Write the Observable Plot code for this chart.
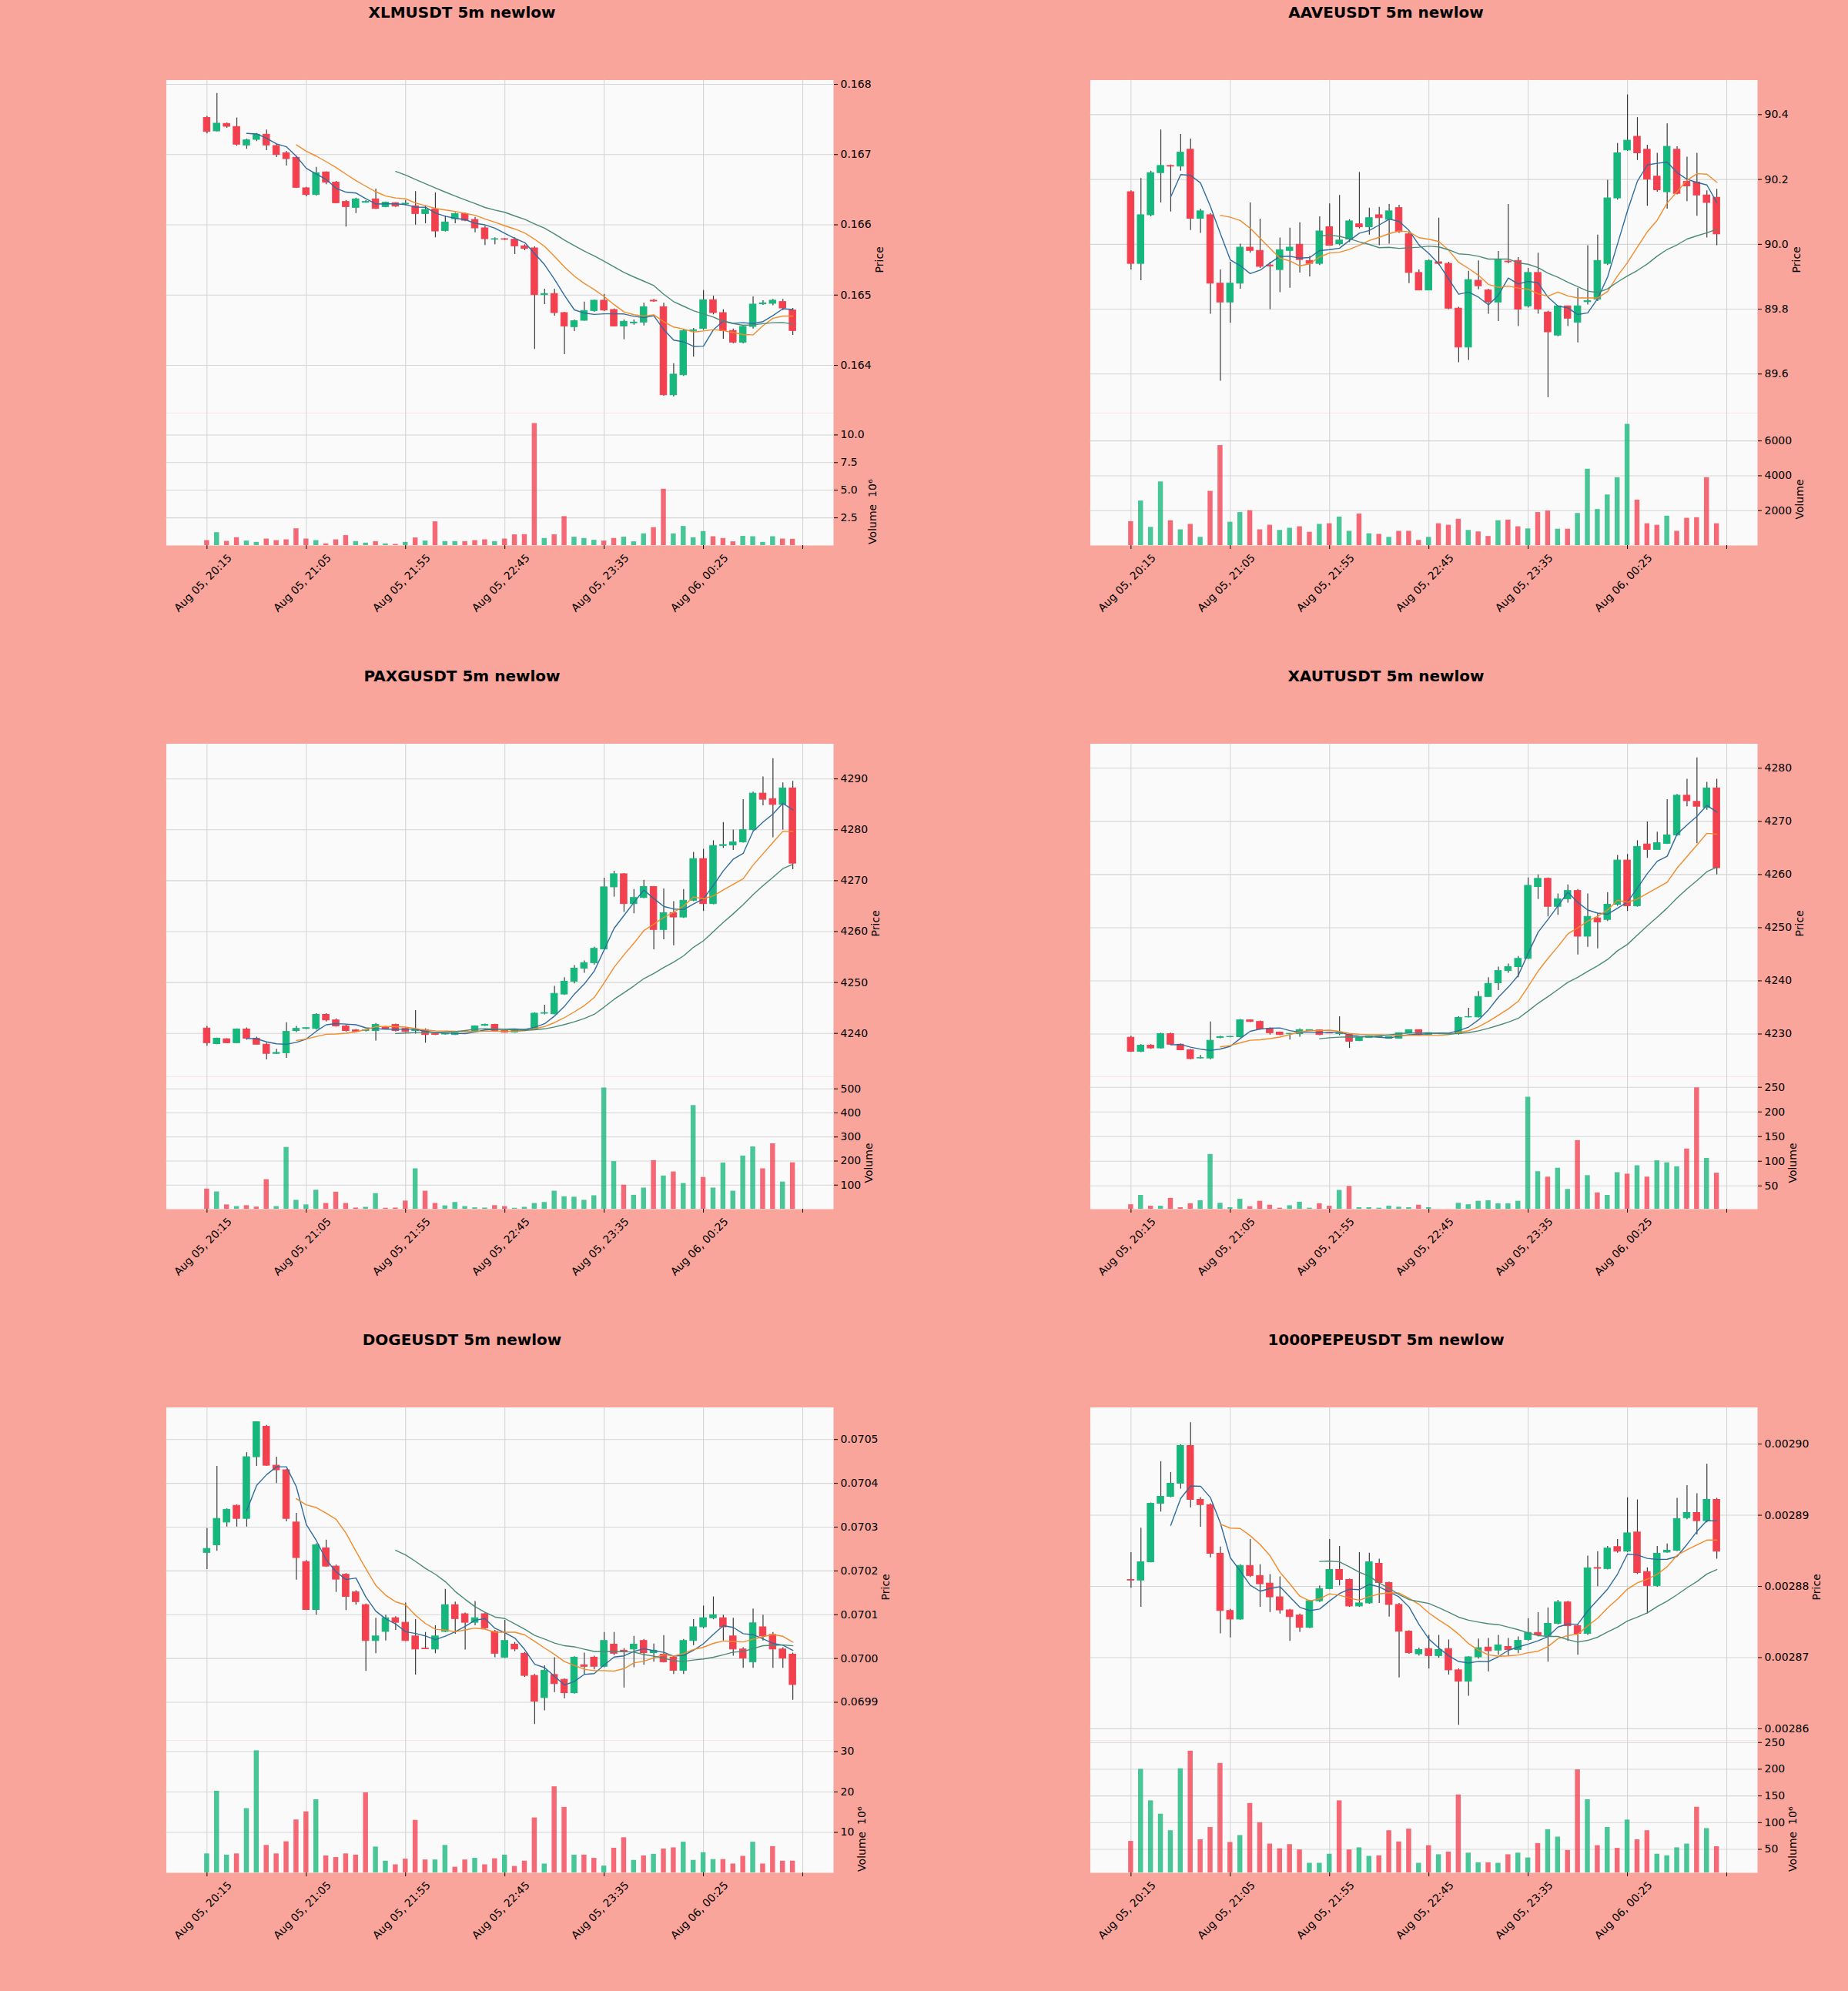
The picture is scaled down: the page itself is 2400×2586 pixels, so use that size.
<!DOCTYPE html>
<html><head><meta charset="utf-8">
<script src="https://cdn.jsdelivr.net/npm/d3@7"></script>
<script src="https://cdn.jsdelivr.net/npm/@observablehq/plot@0.6"></script>
<style>
html,body{margin:0;padding:0;background:#f9a59b;}
#root{position:relative;width:2400px;height:2586px;background:#f9a59b;font-family:"DejaVu Sans",sans-serif;overflow:hidden;}
.cell{position:absolute;width:1200px;height:862px;}
.title{position:absolute;left:0;top:6.4px;width:1200px;text-align:center;font-weight:bold;font-size:20px;line-height:20px;color:#000;font-family:"DejaVu Sans",sans-serif;white-space:nowrap;}
.cell svg{position:absolute;left:0;overflow:visible;max-width:none !important;}
</style></head><body><div id="root"></div>
<script>
// ---- shared x axis ----
const timeLabels = ["Aug 05, 20:15","Aug 05, 21:05","Aug 05, 21:55","Aug 05, 22:45","Aug 05, 23:35","Aug 06, 00:25"];
const xTickIndex = [0,10,20,30,40,50,60];

// ---- XLMUSDT ----
const xlmOpen = [0.167522,0.167332,0.167438,0.167394,0.167131,0.167211,0.167284,0.167123,0.167021,0.166955,
0.166521,0.166426,0.166747,0.166601,0.166327,0.166243,0.166316,0.166364,0.166254,0.166309,
0.166291,0.166265,0.166155,0.166218,0.165914,0.166082,0.166155,0.166071,0.165951,0.165790,
0.165797,0.165790,0.165695,0.165666,0.165001,0.165016,0.164745,0.164545,0.164636,0.164775,
0.164921,0.164789,0.164555,0.164599,0.164610,0.164921,0.164829,0.163576,0.163861,0.164490,
0.164519,0.164928,0.164745,0.164490,0.164325,0.164548,0.164870,0.164877,0.164902,0.164782];
const xlmHigh = [0.167544,0.167872,0.167449,0.167522,0.167222,0.167302,0.167350,0.167149,0.167047,0.166974,
0.166535,0.166820,0.166755,0.166619,0.166345,0.166382,0.166345,0.166510,0.166327,0.166316,
0.166345,0.166473,0.166272,0.166455,0.166126,0.166170,0.166170,0.166108,0.165980,0.165816,
0.165805,0.165816,0.165717,0.165688,0.165085,0.165085,0.164756,0.164647,0.164902,0.164928,
0.165012,0.164804,0.164647,0.164647,0.164884,0.164939,0.164884,0.164026,0.164512,0.164526,
0.165067,0.164987,0.164793,0.164519,0.164563,0.164976,0.164921,0.164939,0.164939,0.164811];
const xlmLow = [0.167295,0.167324,0.167375,0.167120,0.167076,0.167186,0.167058,0.166959,0.166839,0.166517,
0.166400,0.166411,0.166572,0.166302,0.165969,0.166163,0.166309,0.166218,0.166243,0.166250,
0.166272,0.165998,0.166017,0.165816,0.165900,0.166017,0.166046,0.165889,0.165706,0.165717,
0.165779,0.165578,0.165633,0.164227,0.164866,0.164702,0.164154,0.164482,0.164629,0.164756,
0.164767,0.164548,0.164366,0.164574,0.164563,0.164900,0.163562,0.163551,0.163843,0.164117,
0.164501,0.164720,0.164373,0.164307,0.164307,0.164519,0.164855,0.164848,0.164782,0.164428];
const xlmClose = [0.167324,0.167441,0.167397,0.167142,0.167204,0.167284,0.167131,0.166996,0.166937,0.166528,
0.166426,0.166736,0.166601,0.166309,0.166254,0.166364,0.166327,0.166229,0.166316,0.166261,
0.166302,0.166155,0.166214,0.165907,0.166035,0.166155,0.166060,0.165951,0.165797,0.165797,
0.165790,0.165695,0.165659,0.165001,0.165016,0.164745,0.164555,0.164629,0.164775,0.164921,
0.164782,0.164555,0.164621,0.164610,0.164829,0.164910,0.163576,0.163869,0.164490,0.164501,
0.164928,0.164745,0.164490,0.164325,0.164548,0.164866,0.164884,0.164921,0.164811,0.164490];
const xlmVolume = [0.45,1.17,0.38,0.71,0.41,0.29,0.59,0.45,0.52,1.52,
0.59,0.45,0.15,0.52,0.90,0.36,0.22,0.36,0.15,0.10,
0.29,0.69,0.41,2.15,0.36,0.36,0.36,0.45,0.52,0.36,
0.59,0.97,0.99,11.04,0.64,0.97,2.62,0.76,0.64,0.48,
0.41,0.64,0.76,0.34,1.06,1.62,5.10,1.06,1.73,0.71,
1.27,0.80,0.64,0.34,0.83,0.80,0.29,0.80,0.59,0.57]; // x 10^6

// ---- AAVEUSDT ----
const aaveOpen = [90.161,89.940,90.090,90.220,90.242,90.240,90.292,90.079,90.090,89.879,
89.821,89.879,89.990,89.980,89.935,89.921,89.980,89.999,89.949,89.940,
90.053,90.001,90.015,90.062,90.053,90.090,90.076,90.112,90.031,89.912,
89.858,89.945,89.940,89.802,89.682,89.888,89.858,89.821,89.947,89.949,
89.809,89.912,89.790,89.719,89.809,89.759,89.822,89.830,89.940,90.142,
90.290,90.332,90.292,90.209,90.161,90.292,90.193,90.191,90.151,90.144];
const aaveHigh = [90.165,90.203,90.226,90.353,90.245,90.339,90.325,90.109,90.095,89.921,
89.945,90.001,90.128,90.078,89.945,90.020,90.050,90.067,89.963,90.085,
90.125,90.151,90.076,90.222,90.112,90.114,90.123,90.121,90.038,89.921,
89.952,90.081,89.945,89.806,89.917,89.949,89.862,89.978,90.123,89.959,
89.926,89.973,89.794,89.809,89.809,89.865,89.996,90.029,90.198,90.311,
90.461,90.391,90.306,90.281,90.372,90.301,90.269,90.281,90.165,90.170];
const aaveLow = [89.921,89.888,90.085,90.128,90.100,90.226,90.043,90.034,89.785,89.578,
89.757,89.862,89.973,89.926,89.799,89.851,89.865,89.912,89.900,89.935,
89.996,89.996,90.006,90.048,90.029,89.996,90.001,90.034,89.879,89.858,
89.858,89.935,89.799,89.635,89.642,89.860,89.785,89.762,89.940,89.747,
89.804,89.785,89.527,89.715,89.747,89.696,89.813,89.824,89.935,90.137,
90.287,90.259,90.118,90.161,90.109,90.153,90.132,90.087,90.020,89.996];
const aaveClose = [89.940,90.090,90.220,90.242,90.240,90.283,90.079,90.102,89.879,89.821,
89.879,89.990,89.980,89.931,89.932,89.982,89.990,89.952,89.940,90.040,
89.996,90.012,90.071,90.053,90.081,90.081,90.102,90.038,89.912,89.858,
89.949,89.940,89.802,89.682,89.890,89.871,89.821,89.952,89.945,89.799,
89.912,89.799,89.729,89.809,89.771,89.809,89.825,89.949,90.142,90.281,
90.320,90.281,90.200,90.167,90.301,90.156,90.179,90.151,90.128,90.031];
const aaveVolume = [1374,2556,1043,3652,1426,904,1217,470,3113,5739,
1339,1896,2000,904,1165,870,991,1078,765,1217,
1252,1635,817,1809,678,643,470,817,817,296,
470,1252,1165,1513,870,783,522,1426,1461,1078,
957,1896,1983,939,939,1843,4382,2069,2904,3895,
6956,2608,1252,1165,1687,817,1565,1600,3895,1252];

// ---- PAXGUSDT ----
const paxgOpen = [4240.96,4237.91,4238.86,4238.09,4240.78,4238.98,4237.79,4235.99,4236.11,4240.48,
4240.90,4240.90,4243.65,4242.57,4241.38,4240.60,4240.48,4240.48,4241.08,4241.68,
4240.90,4240.48,4240.66,4239.90,4239.80,4239.70,4240.30,4240.30,4241.50,4241.68,
4240.48,4240.18,4240.66,4240.78,4243.89,4243.77,4247.66,4250.17,4252.74,4253.82,
4256.51,4268.71,4271.28,4265.42,4266.62,4268.77,4260.34,4263.63,4262.79,4266.08,
4274.27,4265.42,4276.84,4276.96,4277.56,4279.95,4287.13,4286.05,4284.92,4288.15];
const paxgHigh = [4241.38,4239.10,4238.98,4240.90,4241.08,4239.28,4238.09,4236.89,4242.09,4241.38,
4241.08,4243.89,4243.89,4242.87,4241.68,4240.78,4240.66,4241.97,4241.38,4241.85,
4241.08,4244.49,4240.90,4240.06,4240.00,4240.10,4240.48,4241.50,4241.85,4241.80,
4240.60,4240.70,4240.78,4244.07,4245.56,4249.27,4250.95,4253.34,4254.24,4256.93,
4270.50,4271.88,4271.40,4268.29,4270.08,4268.89,4268.41,4265.90,4268.29,4275.59,
4276.18,4277.86,4281.45,4279.95,4285.93,4287.43,4290.42,4294.01,4289.22,4289.52];
const paxgLow = [4237.49,4237.79,4237.97,4237.97,4238.68,4237.67,4234.80,4235.87,4235.10,4240.18,
4240.78,4240.66,4242.27,4241.26,4240.30,4240.30,4240.30,4238.51,4240.78,4240.30,
4240.18,4239.88,4238.09,4239.60,4239.70,4239.60,4240.18,4240.18,4241.38,4240.36,
4240.06,4240.06,4240.48,4240.66,4243.65,4243.65,4247.48,4249.75,4251.84,4253.46,
4256.33,4266.79,4263.80,4263.51,4266.50,4256.45,4258.42,4257.23,4262.61,4265.90,
4263.98,4265.30,4276.36,4275.95,4277.38,4279.77,4284.74,4278.46,4279.95,4272.18];
const paxgClose = [4238.09,4238.98,4238.09,4240.78,4238.98,4237.79,4235.99,4236.17,4240.30,4240.90,
4241.05,4243.65,4242.57,4241.38,4240.48,4240.36,4240.66,4241.68,4240.90,4240.48,
4240.30,4240.66,4239.70,4239.72,4239.88,4240.06,4240.36,4241.38,4241.68,4240.48,
4240.18,4240.66,4240.70,4243.89,4244.00,4247.78,4250.17,4252.74,4253.82,4256.63,
4268.71,4271.28,4265.42,4266.62,4268.77,4260.34,4263.63,4262.79,4266.08,4274.27,
4265.42,4276.84,4277.02,4277.56,4279.95,4287.13,4285.93,4284.92,4288.15,4273.37];
const paxgVolume = [84,72,18,11,15,9,123,11,257,37,
18,79,24,71,24,5,8,65,4,5,
34,168,75,24,14,28,11,6,5,15,
11,4,8,24,28,75,52,50,37,56,
504,198,100,58,88,202,138,155,107,431,
132,88,192,75,221,259,168,272,113,193];

// ---- XAUTUSDT ----
const xautOpen = [4229.31,4226.68,4227.82,4227.31,4230.00,4228.00,4226.96,4225.42,4225.42,4229.26,
4229.43,4229.43,4232.58,4232.29,4230.97,4230.29,4230.00,4230.00,4230.57,4230.69,
4230.17,4230.00,4229.83,4228.68,4229.26,4229.43,4229.14,4229.14,4230.17,4230.75,
4229.83,4230.00,4230.00,4230.00,4233.15,4233.15,4236.99,4239.57,4241.86,4242.60,
4244.15,4257.66,4259.21,4253.94,4255.37,4256.92,4248.33,4251.76,4251.48,4254.34,
4262.65,4254.06,4265.68,4264.65,4265.80,4267.40,4274.85,4273.70,4272.55,4276.22];
const xautHigh = [4229.60,4228.00,4228.00,4230.17,4230.17,4228.17,4227.14,4225.99,4232.29,4229.60,
4229.55,4232.75,4232.69,4232.46,4231.15,4230.40,4230.10,4230.97,4230.80,4230.80,
4230.30,4233.27,4230.00,4229.30,4229.60,4229.55,4229.50,4230.20,4230.80,4230.80,
4230.20,4230.10,4230.10,4233.27,4234.87,4238.02,4240.60,4242.60,4243.17,4244.61,
4259.38,4259.95,4259.38,4256.35,4258.06,4257.21,4256.35,4252.62,4256.63,4263.62,
4263.79,4266.37,4269.92,4267.97,4274.10,4275.08,4277.94,4281.95,4277.37,4277.94];
const xautLow = [4226.56,4226.51,4227.14,4227.19,4227.88,4226.85,4225.13,4225.30,4225.13,4229.14,
4229.30,4229.26,4232.18,4230.75,4229.83,4229.70,4228.86,4229.43,4230.50,4229.70,
4230.10,4229.71,4227.31,4228.60,4229.20,4229.35,4229.10,4229.10,4230.10,4229.70,
4229.80,4229.90,4229.90,4229.83,4233.04,4233.04,4236.87,4238.19,4241.46,4240.60,
4244.03,4255.32,4252.05,4252.34,4254.63,4244.89,4246.32,4246.04,4251.19,4254.06,
4253.08,4253.88,4263.05,4264.65,4265.68,4267.23,4272.78,4265.80,4272.10,4259.95];
const xautClose = [4226.68,4227.82,4227.31,4230.00,4228.00,4226.96,4225.30,4225.48,4228.74,4229.43,
4229.48,4232.58,4232.29,4230.86,4230.17,4229.83,4230.05,4230.75,4230.75,4229.83,
4230.12,4230.10,4228.57,4229.26,4229.54,4229.50,4229.43,4230.17,4230.75,4229.83,
4230.17,4230.05,4230.02,4233.04,4233.20,4236.99,4239.45,4241.86,4242.60,4244.15,
4257.89,4259.21,4253.94,4255.37,4256.92,4248.33,4252.05,4251.02,4254.34,4262.65,
4254.06,4265.22,4264.65,4265.91,4267.40,4274.85,4273.82,4272.78,4276.22,4261.21];
const xautVolume = [12,31,9,9,25,6,14,20,114,15,
6,23,8,19,11,5,10,17,5,14,
9,41,49,6,6,5,9,7,6,11,
6,3,3,15,12,19,20,14,14,19,
230,79,68,86,43,142,71,36,31,77,
74,91,68,101,97,89,125,249,106,76];

// ---- DOGEUSDT ----
const dogeOpen = [0.0702413,0.0702587,0.0703107,0.0703488,0.0703190,0.0704598,0.0705292,0.0704404,0.0704300,0.0703107,
0.0702205,0.0701110,0.0702518,0.0702101,0.0701914,0.0701512,0.0701221,0.0700402,0.0700610,0.0700922,
0.0700818,0.0700506,0.0700229,0.0700208,0.0700610,0.0701221,0.0701013,0.0700818,0.0701013,0.0700610,
0.0700021,0.0700319,0.0700111,0.0699605,0.0699099,0.0699626,0.0699515,0.0699210,0.0699848,0.0700021,
0.0699813,0.0700319,0.0700180,0.0700208,0.0700402,0.0700125,0.0700090,0.0700021,0.0699723,0.0700402,
0.0700714,0.0700922,0.0700922,0.0700506,0.0700208,0.0699917,0.0700714,0.0700541,0.0700208,0.0700090];
const dogeHigh = [0.0702968,0.0704390,0.0703419,0.0703509,0.0704702,0.0705409,0.0705326,0.0704598,0.0704321,0.0703315,
0.0702240,0.0702622,0.0702705,0.0702136,0.0701942,0.0701547,0.0701248,0.0700922,0.0700992,0.0700957,
0.0701269,0.0700888,0.0700597,0.0700749,0.0701581,0.0701290,0.0701040,0.0701304,0.0701040,0.0700645,
0.0700874,0.0700368,0.0700139,0.0699639,0.0699834,0.0700021,0.0699536,0.0700042,0.0700125,0.0700056,
0.0700597,0.0700597,0.0700229,0.0700506,0.0700437,0.0700333,0.0700527,0.0700042,0.0700437,0.0700888,
0.0701200,0.0701408,0.0700992,0.0700922,0.0700250,0.0701131,0.0700992,0.0700597,0.0700250,0.0700125];
const dogeLow = [0.0702032,0.0702448,0.0703003,0.0703003,0.0703003,0.0704390,0.0704390,0.0703995,0.0703121,0.0701789,
0.0701096,0.0700992,0.0702081,0.0701512,0.0701096,0.0701221,0.0699709,0.0700111,0.0700402,0.0700645,
0.0700389,0.0699626,0.0700208,0.0700111,0.0700597,0.0700555,0.0700194,0.0700749,0.0700666,0.0700021,
0.0700000,0.0700160,0.0699570,0.0698495,0.0698807,0.0699223,0.0699085,0.0699189,0.0699639,0.0699744,
0.0699792,0.0700069,0.0699327,0.0699792,0.0699848,0.0699917,0.0699903,0.0699639,0.0699639,0.0700298,
0.0700680,0.0700888,0.0700402,0.0700056,0.0699778,0.0699778,0.0700402,0.0699778,0.0699778,0.0699050];
const dogeClose = [0.0702504,0.0703190,0.0703398,0.0703190,0.0704598,0.0705396,0.0704404,0.0704300,0.0703190,0.0702296,
0.0701110,0.0702587,0.0702101,0.0701803,0.0701408,0.0701290,0.0700402,0.0700506,0.0700922,0.0700818,
0.0700402,0.0700208,0.0700215,0.0700506,0.0701221,0.0700902,0.0700818,0.0700922,0.0700694,0.0700111,
0.0700402,0.0700208,0.0699605,0.0699015,0.0699723,0.0699418,0.0699210,0.0700021,0.0699813,0.0699813,
0.0700402,0.0700111,0.0700160,0.0700319,0.0700125,0.0700180,0.0699917,0.0699723,0.0700402,0.0700714,
0.0700922,0.0700992,0.0700714,0.0700208,0.0700000,0.0700805,0.0700506,0.0700208,0.0700000,0.0699397];
const dogeVolume = [4.7,20.2,4.4,4.7,15.9,30.2,6.8,4.7,7.7,13.1,
15.1,18.1,4.2,3.8,4.7,4.4,19.8,6.4,2.9,2.0,
3.4,13.0,3.2,3.2,6.8,1.4,3.2,3.6,2.0,3.5,
4.4,1.6,2.9,13.6,2.2,21.3,16.2,4.4,4.4,3.6,
1.7,6.1,8.7,3.1,4.2,4.6,5.9,6.2,7.6,3.1,
5.0,3.3,3.3,2.2,4.1,7.6,2.2,6.5,2.9,2.9]; // x 10^6

// ---- 1000PEPEUSDT ----
const pepeOpen = [0.00288092,0.00288084,0.00288340,0.00289162,0.00289260,0.00289444,0.00289974,0.00289217,0.00289144,0.00288460,
0.00287656,0.00287536,0.00288289,0.00288148,0.00288041,0.00287848,0.00287664,0.00287592,0.00287420,0.00287793,
0.00287964,0.00288233,0.00288092,0.00287720,0.00287763,0.00288319,0.00288049,0.00287741,0.00287365,0.00287048,
0.00287121,0.00287023,0.00287121,0.00286822,0.00286663,0.00287005,0.00287142,0.00287100,0.00287151,0.00287108,
0.00287249,0.00287348,0.00287305,0.00287476,0.00287776,0.00287442,0.00287335,0.00288260,0.00288246,0.00288554,
0.00288490,0.00288759,0.00288203,0.00288007,0.00288477,0.00288503,0.00288961,0.00289033,0.00288918,0.00289217];
const pepeHigh = [0.00288477,0.00288819,0.00289174,0.00289752,0.00289602,0.00289990,0.00290300,0.00289247,0.00289162,0.00288554,
0.00287677,0.00288306,0.00288661,0.00288306,0.00288169,0.00288135,0.00287677,0.00287613,0.00287805,0.00288007,
0.00288661,0.00288563,0.00288105,0.00288477,0.00288469,0.00288383,0.00288062,0.00287763,0.00287378,0.00287134,
0.00287313,0.00287313,0.00287249,0.00286843,0.00287014,0.00287262,0.00287271,0.00287313,0.00287271,0.00287292,
0.00287549,0.00287634,0.00287699,0.00287805,0.00287793,0.00287463,0.00288426,0.00288490,0.00288563,0.00288661,
0.00289247,0.00289217,0.00288263,0.00288563,0.00288597,0.00289239,0.00289418,0.00289303,0.00289718,0.00289239];
const pepeLow = [0.00287977,0.00287707,0.00288332,0.00289046,0.00289247,0.00289367,0.00289102,0.00288832,0.00288404,0.00287335,
0.00287279,0.00287527,0.00288126,0.00287707,0.00287634,0.00287613,0.00287228,0.00287356,0.00287408,0.00287776,
0.00287955,0.00288007,0.00287707,0.00287707,0.00287750,0.00287763,0.00287570,0.00286715,0.00287048,0.00287023,
0.00286843,0.00286993,0.00286757,0.00286051,0.00286458,0.00286980,0.00286800,0.00287035,0.00287023,0.00287057,
0.00287228,0.00287292,0.00286937,0.00287463,0.00287228,0.00287035,0.00287313,0.00287998,0.00288233,0.00288469,
0.00288477,0.00288169,0.00287613,0.00287989,0.00288469,0.00288490,0.00288939,0.00288725,0.00288896,0.00288383];
const pepeClose = [0.00288084,0.00288340,0.00289162,0.00289260,0.00289444,0.00289974,0.00289217,0.00289144,0.00288460,0.00287656,
0.00287536,0.00288289,0.00288148,0.00288032,0.00287848,0.00287664,0.00287570,0.00287420,0.00287793,0.00287964,
0.00288233,0.00288092,0.00287720,0.00287763,0.00288340,0.00288049,0.00287741,0.00287365,0.00287065,0.00287108,
0.00287023,0.00287108,0.00286822,0.00286663,0.00287005,0.00287134,0.00287091,0.00287172,0.00287108,0.00287236,
0.00287348,0.00287313,0.00287476,0.00287776,0.00287442,0.00287335,0.00288255,0.00288250,0.00288533,0.00288490,
0.00288747,0.00288190,0.00288007,0.00288460,0.00288503,0.00288948,0.00289033,0.00288918,0.00289217,0.00288490];
const pepeVolume = [65,200,141,116,85,201,234,68,91,211,
63,76,136,100,60,51,59,49,24,24,
41,141,49,53,37,38,85,64,88,24,
57,40,45,152,43,25,25,24,40,43,
34,61,87,73,48,199,143,57,91,52,
105,68,85,41,38,53,60,129,89,55]; // x 10^6

// ---- panel configuration (titles, tick values, scale ranges) ----
const panels = [
  {title:"XLMUSDT 5m newlow", o:xlmOpen, h:xlmHigh, l:xlmLow, c:xlmClose, v:xlmVolume,
   pDomain:[0.1633206,0.1680603], pTicks:[0.164,0.165,0.166,0.167,0.168], pFmt:".3f",
   vDomain:[0,11.98], vTicks:[2.5,5,7.5,10], vFmt:".1f", vLabel:"Volume  10\u2076"},
  {title:"AAVEUSDT 5m newlow", o:aaveOpen, h:aaveHigh, l:aaveLow, c:aaveClose, v:aaveVolume,
   pDomain:[89.4796,90.5066], pTicks:[89.6,89.8,90.0,90.2,90.4], pFmt:".1f",
   vDomain:[0,7598], vTicks:[2000,4000,6000], vFmt:"d", vLabel:"Volume"},
  {title:"PAXGUSDT 5m newlow", o:paxgOpen, h:paxgHigh, l:paxgLow, c:paxgClose, v:paxgVolume,
   pDomain:[4231.48,4296.91], pTicks:[4240,4250,4260,4270,4280,4290], pFmt:"d",
   vDomain:[0,550.4], vTicks:[100,200,300,400,500], vFmt:"d", vLabel:"Volume"},
  {title:"XAUTUSDT 5m newlow", o:xautOpen, h:xautHigh, l:xautLow, c:xautClose, v:xautVolume,
   pDomain:[4221.96,4284.61], pTicks:[4230,4240,4250,4260,4270,4280], pFmt:"d",
   vDomain:[2.85,271.4], vTicks:[50,100,150,200,250], vFmt:"d", vLabel:"Volume"},
  {title:"DOGEUSDT 5m newlow", o:dogeOpen, h:dogeHigh, l:dogeLow, c:dogeClose, v:dogeVolume,
   pDomain:[0.0698130,0.0705733], pTicks:[0.0699,0.0700,0.0701,0.0702,0.0703,0.0704,0.0705], pFmt:".4f",
   vDomain:[0,32.76], vTicks:[10,20,30], vFmt:"d", vLabel:"Volume  10\u2076"},
  {title:"1000PEPEUSDT 5m newlow", o:pepeOpen, h:pepeHigh, l:pepeLow, c:pepeClose, v:pepeVolume,
   pDomain:[0.002858367,0.002905149], pTicks:[0.00286,0.00287,0.00288,0.00289,0.00290], pFmt:".5f",
   vDomain:[6,254], vTicks:[50,100,150,200,250], vFmt:"d", vLabel:"Volume  10\u2076"}
];

// ---- styling ----
const UP = "#16b77c", DOWN = "#f2404f", WICK = "#3a3a3a";
const MA_COLORS = {5:"#2f6c9e", 10:"#f28b2a", 20:"#4a8a78"};
const GRID = "#d5d5d5";
const X_DOMAIN = [-4.1, 63.1];
const ML = 215.5, MR = 118;
const FS = 14;

// distance of a rotated y-axis label from the axis line, from the widest tick label
function labelOffset(ticks, fmt) {
  const f = d3.format(fmt);
  const w = d3.max(ticks, t => {
    const s = f(t);
    let px = 0;
    for (const ch of s) px += (ch === "." ? 0.318 : 0.636) * FS;
    return px;
  });
  return 19.5 + w;
}

function sma(rows, n) {
  const out = [];
  for (let i = n - 1; i < rows.length; i++) {
    out.push({i, v: d3.mean(rows.slice(i - n + 1, i + 1), r => r.c)});
  }
  return out;
}

const root = document.getElementById("root");
const tickLabelData = timeLabels.map((label, k) => ({i: xTickIndex[k], label}));

panels.forEach((p, k) => {
  const col = k % 2, row = Math.floor(k / 2);
  const cell = document.createElement("div");
  cell.className = "cell";
  cell.style.left = (col * 1200) + "px";
  cell.style.top = (row * 862) + "px";
  root.appendChild(cell);

  const title = document.createElement("div");
  title.className = "title";
  title.textContent = p.title;
  cell.appendChild(title);

  const rows = p.o.map((o, i) => ({i, o, h: p.h[i], l: p.l[i], c: p.c[i], v: p.v[i], col: p.c[i] >= o ? UP : DOWN}));
  const style = {background: "transparent", fontFamily: "DejaVu Sans, sans-serif", fontSize: FS + "px", color: "#000", overflow: "visible"};

  const price = Plot.plot({
    width: 1200, height: 536, marginLeft: ML, marginRight: MR, marginTop: 103.5, marginBottom: 0,
    style,
    x: {domain: X_DOMAIN, axis: null},
    y: {domain: p.pDomain, axis: null},
    marks: [
      Plot.frame({fill: "#fafafa", stroke: null}),
      Plot.gridX(xTickIndex, {stroke: GRID, strokeOpacity: 1, strokeWidth: 1.1}),
      Plot.gridY(p.pTicks, {stroke: GRID, strokeOpacity: 1, strokeWidth: 1.1}),
      Plot.ruleX(rows, {x: "i", y1: "l", y2: "h", stroke: WICK, strokeWidth: 1.2}),
      Plot.rect(rows, {x1: d => d.i - 0.33, x2: d => d.i + 0.33, y1: "o", y2: "c", fill: "col", stroke: "col", strokeWidth: 1}),
      Plot.line(sma(rows, 5), {x: "i", y: "v", stroke: MA_COLORS[5], strokeWidth: 1.4}),
      Plot.line(sma(rows, 10), {x: "i", y: "v", stroke: MA_COLORS[10], strokeWidth: 1.4}),
      Plot.line(sma(rows, 20), {x: "i", y: "v", stroke: MA_COLORS[20], strokeWidth: 1.4}),
      Plot.axisY(p.pTicks, {anchor: "right", tickFormat: d3.format(p.pFmt), tickSize: 5, tickPadding: 4, fontSize: FS, label: null, stroke: "#000"}),
      Plot.text(["Price"], {text: d => d, frameAnchor: "right", dx: labelOffset(p.pTicks, p.pFmt), rotate: -90, fontSize: FS, fill: "#000"})
    ]
  });
  price.style.top = "0px";
  cell.appendChild(price);

  const vol = Plot.plot({
    width: 1200, height: 326, marginLeft: ML, marginRight: MR, marginTop: 0, marginBottom: 154,
    style,
    x: {domain: X_DOMAIN, axis: null},
    y: {domain: p.vDomain, axis: null},
    marks: [
      Plot.frame({fill: "#fafafa", stroke: null}),
      Plot.gridX(xTickIndex, {stroke: GRID, strokeOpacity: 1, strokeWidth: 1.1}),
      Plot.gridY(p.vTicks, {stroke: GRID, strokeOpacity: 1, strokeWidth: 1.1}),
      Plot.rect(rows, {x1: d => d.i - 0.25, x2: d => d.i + 0.25, y1: p.vDomain[0] > 0 ? 0 : p.vDomain[0], y2: "v", fill: "col", fillOpacity: 0.78, clip: true}),
      Plot.axisY(p.vTicks, {anchor: "right", tickFormat: d3.format(p.vFmt), tickSize: 5, tickPadding: 4, fontSize: FS, label: null, stroke: "#000"}),
      Plot.axisX(xTickIndex, {anchor: "bottom", tickSize: 5, tickFormat: () => "", label: null, stroke: "#000"}),
      Plot.text(tickLabelData, {x: "i", text: "label", frameAnchor: "bottom", rotate: -45, textAnchor: "end", dx: 33, dy: 17, fontSize: FS, fill: "#000"}),
      Plot.text([p.vLabel], {text: d => d, frameAnchor: "right", dx: labelOffset(p.vTicks, p.vFmt), rotate: -90, fontSize: FS, fill: "#000"})
    ]
  });
  vol.style.top = "536px";
  cell.appendChild(vol);
});
</script></body></html>
